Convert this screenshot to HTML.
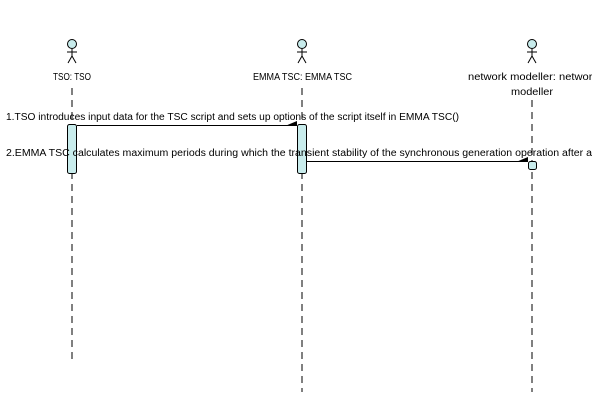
<!DOCTYPE html>
<html><head><style>
html,body{margin:0;padding:0;background:#fff;width:592px;height:400px;overflow:hidden}
text{font-family:"Liberation Sans",sans-serif;font-size:10px;fill:#000}
</style></head><body>
<svg width="592" height="400" viewBox="0 0 592 400" xmlns="http://www.w3.org/2000/svg">
<g stroke="#000" stroke-width="1" fill="none">
  <line x1="72" y1="88" x2="72" y2="362" stroke-dasharray="7,5"/>
  <line x1="302" y1="88" x2="302" y2="392" stroke-dasharray="7,5"/>
  <line x1="532" y1="100" x2="532" y2="392" stroke-dasharray="7,5"/>
</g>
<g stroke="#000" stroke-width="1">
  <circle cx="72" cy="44" r="4.5" fill="#c8ecec"/>
  <line x1="72" y1="49" x2="72" y2="56"/><line x1="67" y1="52" x2="77" y2="52"/>
  <line x1="72" y1="56" x2="68" y2="63"/><line x1="72" y1="56" x2="76" y2="63"/>
  <circle cx="302" cy="44" r="4.5" fill="#c8ecec"/>
  <line x1="302" y1="49" x2="302" y2="56"/><line x1="297" y1="52" x2="307" y2="52"/>
  <line x1="302" y1="56" x2="298" y2="63"/><line x1="302" y1="56" x2="306" y2="63"/>
  <circle cx="532" cy="44" r="4.5" fill="#c8ecec"/>
  <line x1="532" y1="49" x2="532" y2="56"/><line x1="527" y1="52" x2="537" y2="52"/>
  <line x1="532" y1="56" x2="528" y2="63"/><line x1="532" y1="56" x2="536" y2="63"/>
</g>
<text x="53" y="80" textLength="38" lengthAdjust="spacingAndGlyphs">TSO: TSO</text>
<text x="253" y="80" textLength="99" lengthAdjust="spacingAndGlyphs">EMMA TSC: EMMA TSC</text>
<text x="468" y="80" textLength="130" lengthAdjust="spacingAndGlyphs">network modeller: network</text>
<text x="511" y="95" textLength="42" lengthAdjust="spacingAndGlyphs">modeller</text>
<g stroke="#000" stroke-width="1" fill="#c8ecec">
  <rect x="67.5" y="124.5" width="9" height="49" rx="2"/>
  <rect x="297.5" y="124.5" width="9" height="49" rx="2"/>
  <rect x="528.5" y="161.5" width="8" height="8" rx="2"/>
</g>
<g stroke="#000" stroke-width="1">
  <line x1="77" y1="125.5" x2="297" y2="125.5"/>
  <line x1="307" y1="161.5" x2="528" y2="161.5"/>
</g>
<polygon points="285,126 297,121 297,126" fill="#000"/>
<polygon points="516,162 528,157 528,162" fill="#000"/>
<text x="6" y="120" textLength="453" lengthAdjust="spacingAndGlyphs">1.TSO introduces input data for the TSC script and sets up options of the script itself in EMMA TSC()</text>
<text x="6" y="156" textLength="586" lengthAdjust="spacingAndGlyphs">2.EMMA TSC calculates maximum periods during which the transient stability of the synchronous generation operation after a</text>
</svg>
</body></html>
